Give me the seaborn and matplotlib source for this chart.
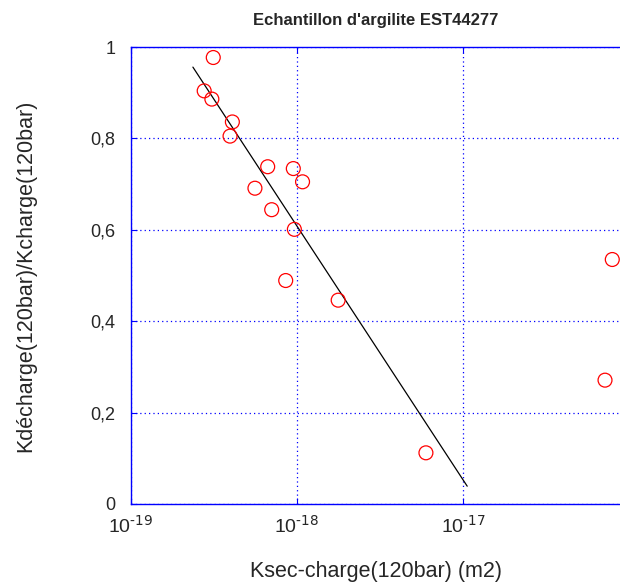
import matplotlib
matplotlib.use("Agg")
import matplotlib.pyplot as plt
import seaborn as sns
import numpy as np
import pandas as pd
from matplotlib.ticker import FixedLocator, FuncFormatter, NullLocator

# données
k_sec = [3.13e-19, 2.76e-19, 3.07e-19, 4.08e-19, 3.95e-19, 6.66e-19, 9.5e-19,
         1.08e-18, 5.58e-19, 7.04e-19, 9.64e-19, 8.55e-19, 1.77e-18, 5.98e-18,
         7.93e-17, 7.17e-17]
ratio = [0.977, 0.904, 0.886, 0.836, 0.805, 0.738, 0.734, 0.705, 0.691, 0.644,
         0.601, 0.489, 0.446, 0.112, 0.535, 0.271]

# droite de tendance
fit_x = [2.36e-19, 1.06e-17]
fit_y = [0.956, 0.039]

x_ticks = [1e-19, 1e-18, 1e-17]
y_ticks = [0, 0.2, 0.4, 0.6, 0.8, 1]

df = pd.DataFrame({"k": k_sec, "r": ratio})
df_fit = pd.DataFrame({"k": fit_x, "r": fit_y})

sns.set_style("white")
plt.rcParams["font.family"] = ["Liberation Sans", "DejaVu Sans"]
plt.rcParams["mathtext.default"] = "regular"

fig = plt.figure(figsize=(6.2, 5.88), dpi=100)
ax = fig.add_axes([131 / 620, 1 - 504 / 588, 489 / 620, 457 / 588])

sns.lineplot(data=df_fit, x="k", y="r", color="black", linewidth=0.9, ax=ax)
sns.scatterplot(data=df, x="k", y="r", marker="o", s=100, facecolor="none",
                edgecolor="red", linewidth=0.9, ax=ax, zorder=3)

ax.set_xscale("log")
ax.set_xlim(1e-19, 10 ** (-19 + 489 / 166))
ax.set_ylim(0, 1)
ax.xaxis.set_major_locator(FixedLocator(x_ticks))
ax.xaxis.set_minor_locator(NullLocator())
ax.yaxis.set_major_locator(FixedLocator(y_ticks))
ax.xaxis.set_major_formatter(FuncFormatter(lambda v, p: r"$10^{\text{%d}}$" % round(np.log10(v))))
ax.yaxis.set_major_formatter(FuncFormatter(lambda v, p: ("%g" % v).replace(".", ",")))

ax.grid(True, color="blue", linestyle=(0, (1, 2.5)), linewidth=0.9)
for side in ["left", "bottom", "top"]:
    ax.spines[side].set_color("blue")
    ax.spines[side].set_linewidth(1.0)
ax.spines["right"].set_visible(False)
ax.tick_params(direction="in", length=4, color="blue", labelsize=13,
               top=True, left=True, bottom=True, right=False, pad=11)
ax.tick_params(axis="x", pad=8, labelsize=14)

ax.set_xlabel("Ksec-charge(120bar) (m2)", fontsize=15.5, labelpad=18)
ax.set_ylabel("Kdécharge(120bar)/Kcharge(120bar)", fontsize=15.5, labelpad=39)
ax.set_title("Echantillon d'argilite EST44277", fontsize=12, fontweight="bold", pad=16)

fig.savefig("out.png", dpi=100)
